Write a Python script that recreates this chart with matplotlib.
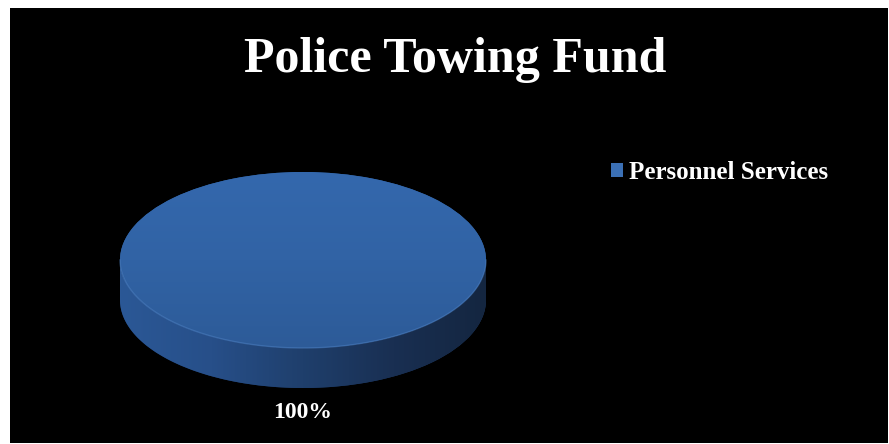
import numpy as np
import matplotlib.pyplot as plt
from matplotlib.patches import Rectangle, Polygon
from matplotlib.colors import LinearSegmentedColormap

title = "Police Towing Fund"
categories = ["Personnel Services"]
values = [100]

W, H = 889, 444
fig = plt.figure(figsize=(W / 100, H / 100), dpi=100)
fig.patch.set_facecolor("white")
fig.patches.append(Rectangle((10 / W, 1 / H), 878 / W, 435 / H, transform=fig.transFigure,
                             facecolor="black", edgecolor="none", zorder=-10))

# pie geometry in pixels: centre (303, 260), rx 183, ry 88, depth 40
rx, ry, depth = 183, 88, 40
cx, cy = 303, H - 260
xl, yl = (-1.25, 1.25), (-1.75, 1.2)
ax = fig.add_axes([(cx + xl[0] * rx) / W, (cy + yl[0] * ry) / H,
                   (xl[1] - xl[0]) * rx / W, (yl[1] - yl[0]) * ry / H])
ax.set_facecolor("none")
d = depth / ry

# side of the disc
bottom, _ = ax.pie(values, colors=["#1d3a66"], startangle=90, center=(0, -d),
                   wedgeprops=dict(linewidth=0))
t = np.linspace(np.pi, 2 * np.pi, 200)
side = np.vstack([np.c_[np.cos(t), np.sin(t) - d], np.c_[np.cos(t[::-1]), np.sin(t[::-1])]])
side_poly = Polygon(side, closed=True, facecolor="none", edgecolor="none")
ax.add_patch(side_poly)
side_cmap = LinearSegmentedColormap.from_list(
    "side", ["#2b5896", "#274f89", "#1f3f6c", "#192f52", "#142640"])
gx = np.linspace(0, 1, 256)[None, :]
im = ax.imshow(gx, cmap=side_cmap, extent=(-1, 1, -1 - d, 0), aspect="auto", zorder=1)
im.set_clip_path(side_poly)

# top face
wedges, texts, autotexts = ax.pie(values, labels=None, colors=["#2f62a3"], startangle=90,
                                  autopct="%1.0f%%", pctdistance=1.73,
                                  wedgeprops=dict(linewidth=0),
                                  textprops=dict(color="white", fontsize=17, fontweight="bold",
                                                 family="Liberation Serif"))
for w in wedges:
    w.set_zorder(2)
top_cmap = LinearSegmentedColormap.from_list("top", ["#2d5b98", "#3163a5", "#3468ad"])
gy = np.linspace(0, 1, 256)[:, None]
im2 = ax.imshow(gy, cmap=top_cmap, origin="lower", extent=(-1, 1, -1, 1), aspect="auto", zorder=3)
im2.set_clip_path(wedges[0])
# faint highlight on the front rim
ax.plot(np.cos(t), np.sin(t), color="#4f82c4", lw=1, alpha=0.5, zorder=4)
for a in autotexts:
    a.set_zorder(5)

ax.set_aspect("auto")
ax.set_xlim(*xl)
ax.set_ylim(*yl)
ax.axis("off")

fig.text(455 / W, 1 - 60 / H, title, ha="center", va="center", color="white",
         fontsize=36, fontweight="bold", family="Liberation Serif")

leg = fig.legend(wedges, categories, loc="center left", bbox_to_anchor=(588 / W, 1 - 172 / H),
                 frameon=False, handlelength=0.5, handleheight=0.5, handletextpad=0.25,
                 prop=dict(family="Liberation Serif", weight="bold", size=18))
for txt in leg.get_texts():
    txt.set_color("white")
for h in leg.legend_handles:
    h.set_facecolor("#3b70b5")

fig.savefig("out.png", dpi=100, facecolor=fig.get_facecolor())
